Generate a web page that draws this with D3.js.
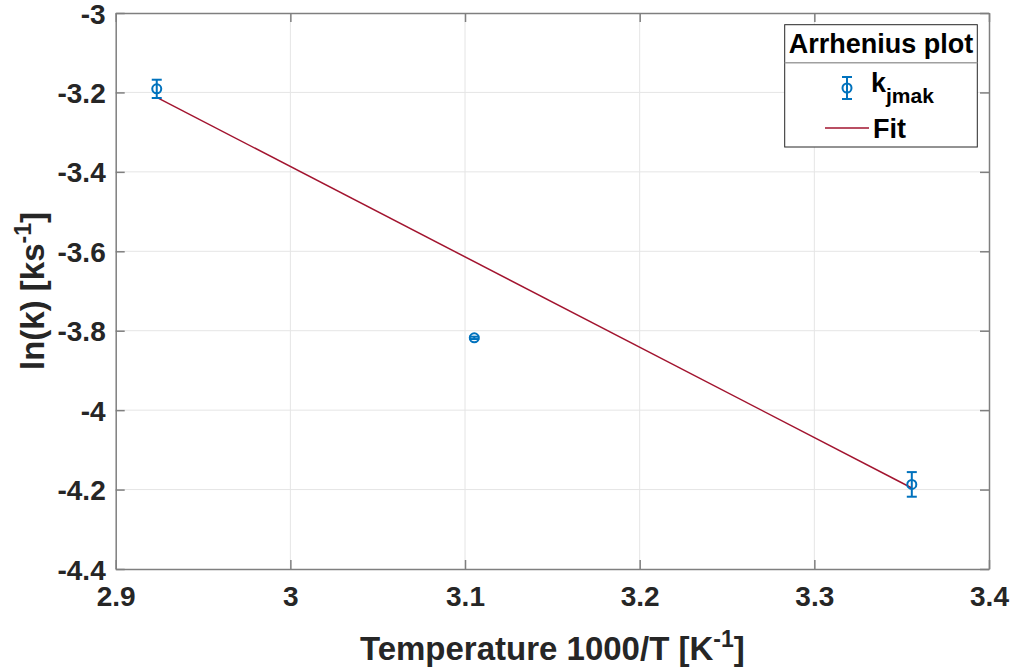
<!DOCTYPE html>
<html>
<head>
<meta charset="utf-8">
<script src="https://cdn.jsdelivr.net/npm/d3@7"></script>
<style>
  body { margin: 0; background: #fff; }
  svg text { font-family: "Liberation Sans", Arial, Helvetica, sans-serif; font-weight: bold; fill: #262626; }
</style>
</head>
<body>
<div id="chart"></div>
<script>
// measured points (1000/T vs ln k) with error
var tempX = [2.9235, 3.1053, 3.3558];
var lnK = [-3.191, -3.818, -4.187];
var lnKErr = [0.023, 0.003, 0.031];

// linear fit end points
var fitX = [2.9235, 3.3558];
var fitY = [-3.2125, -4.196];

var xTicks = [2.9, 3.0, 3.1, 3.2, 3.3, 3.4];
var yTicks = [-3, -3.2, -3.4, -3.6, -3.8, -4, -4.2, -4.4];

var width = 1016, height = 671;
var margin = {left: 115.7, right: 27, top: 13, bottom: 102};
var blue = "#0072BD", red = "#A2142F";

var svg = d3.select("#chart").append("svg")
  .attr("width", width)
  .attr("height", height);

var x = d3.scaleLinear().domain([2.9, 3.4]).range([margin.left, width - margin.right]);
var y = d3.scaleLinear().domain([-4.4, -3]).range([height - margin.bottom, margin.top]);

var fmt = function(d) { return String(+d.toFixed(1)); };

// grid
svg.append("g").selectAll("line").data(xTicks.slice(1, -1)).enter().append("line")
  .attr("x1", d => x(d)).attr("x2", d => x(d))
  .attr("y1", y.range()[0]).attr("y2", y.range()[1])
  .attr("stroke", "#e5e5e5").attr("stroke-width", 1);
svg.append("g").selectAll("line").data(yTicks.slice(1, -1)).enter().append("line")
  .attr("x1", x.range()[0]).attr("x2", x.range()[1])
  .attr("y1", d => y(d)).attr("y2", d => y(d))
  .attr("stroke", "#e5e5e5").attr("stroke-width", 1);

// axes (ticks inward, box on)
var tickLen = 9;
var xAxis = svg.append("g")
  .attr("transform", "translate(0," + y.range()[0] + ")")
  .call(d3.axisBottom(x).tickValues(xTicks).tickFormat(fmt).tickSizeInner(-tickLen).tickSizeOuter(0).tickPadding(17));
var yAxis = svg.append("g")
  .attr("transform", "translate(" + x.range()[0] + ",0)")
  .call(d3.axisLeft(y).tickValues(yTicks).tickFormat(fmt).tickSizeInner(-tickLen).tickSizeOuter(0).tickPadding(10));
var xTop = svg.append("g")
  .attr("transform", "translate(0," + y.range()[1] + ")")
  .call(d3.axisTop(x).tickValues(xTicks).tickFormat("").tickSizeInner(-tickLen).tickSizeOuter(0));
var yRight = svg.append("g")
  .attr("transform", "translate(" + x.range()[1] + ",0)")
  .call(d3.axisRight(y).tickValues(yTicks).tickFormat("").tickSizeInner(-tickLen).tickSizeOuter(0));

[xAxis, yAxis, xTop, yRight].forEach(function(a) {
  a.select(".domain").attr("stroke", "#7f7f7f").attr("stroke-width", 1.5);
  a.selectAll(".tick line").attr("stroke", "#7f7f7f").attr("stroke-width", 1.5);
  a.selectAll(".tick text").style("font-size", "28px").attr("fill", "#262626")
    .style("font-family", "'Liberation Sans', Arial, sans-serif").style("font-weight", "bold");
});
yAxis.selectAll(".tick text").attr("dy", "0.36em");

// fit line
svg.append("path")
  .datum(fitX.map((d, i) => [d, fitY[i]]))
  .attr("d", d3.line().x(d => x(d[0])).y(d => y(d[1])))
  .attr("fill", "none").attr("stroke", red).attr("stroke-width", 1.5);

// error bars + markers
var pts = tempX.map((d, i) => ({x: d, y: lnK[i], e: lnKErr[i]}));
var eb = svg.append("g").selectAll("g").data(pts).enter().append("g");
eb.append("line")
  .attr("x1", d => x(d.x)).attr("x2", d => x(d.x))
  .attr("y1", d => y(d.y - d.e)).attr("y2", d => y(d.y + d.e))
  .attr("stroke", blue).attr("stroke-width", 2);
eb.selectAll(".cap").data(d => [[d.x, d.y - d.e], [d.x, d.y + d.e]]).enter().append("line")
  .attr("x1", d => x(d[0]) - 5).attr("x2", d => x(d[0]) + 5)
  .attr("y1", d => y(d[1])).attr("y2", d => y(d[1]))
  .attr("stroke", blue).attr("stroke-width", 2);
eb.append("circle")
  .attr("cx", d => x(d.x)).attr("cy", d => y(d.y)).attr("r", 4.5)
  .attr("fill", "none").attr("stroke", blue).attr("stroke-width", 2);

// axis labels
svg.append("text")
  .attr("x", (x.range()[0] + x.range()[1]) / 2).attr("y", 660)
  .attr("text-anchor", "middle").style("font-size", "33px")
  .html('Temperature 1000/T [K<tspan dy="-13" style="font-size:23px">-1</tspan><tspan dy="13">]</tspan>');
svg.append("text")
  .attr("transform", "translate(44," + (y.range()[0] + y.range()[1]) / 2 + ") rotate(-90)")
  .attr("text-anchor", "middle").style("font-size", "33px")
  .html('ln(k) [ks<tspan dy="-13" style="font-size:23px">-1</tspan><tspan dy="13">]</tspan>');

// legend
var lg = svg.append("g");
lg.append("rect").attr("x", 784.7).attr("y", 24.7).attr("width", 192.6).attr("height", 122.3)
  .attr("fill", "#fff").attr("stroke", "#262626").attr("stroke-width", 1);
lg.append("line").attr("x1", 784.7).attr("x2", 977.3).attr("y1", 62.7).attr("y2", 62.7)
  .attr("stroke", "#a0a0a0").attr("stroke-width", 1.5);
lg.append("text").attr("x", 881).attr("y", 53).attr("text-anchor", "middle")
  .style("font-size", "27px").style("fill", "#000").text("Arrhenius plot");
// errorbar icon
lg.append("line").attr("x1", 847).attr("x2", 847).attr("y1", 77).attr("y2", 99)
  .attr("stroke", blue).attr("stroke-width", 2);
lg.selectAll(".cap").data([77, 99]).enter().append("line")
  .attr("x1", 842).attr("x2", 852).attr("y1", d => d).attr("y2", d => d)
  .attr("stroke", blue).attr("stroke-width", 2);
lg.append("circle").attr("cx", 847).attr("cy", 88).attr("r", 4.5)
  .attr("fill", "none").attr("stroke", blue).attr("stroke-width", 2);
lg.append("text").attr("x", 871).attr("y", 92).style("font-size", "27px").style("fill", "#000")
  .html('k<tspan dy="11" style="font-size:21px">jmak</tspan>');
lg.append("line").attr("x1", 825).attr("x2", 869).attr("y1", 128).attr("y2", 128)
  .attr("stroke", red).attr("stroke-width", 1.5);
lg.append("text").attr("x", 873).attr("y", 138).style("font-size", "27px").style("fill", "#000").text("Fit");
</script>
</body>
</html>
